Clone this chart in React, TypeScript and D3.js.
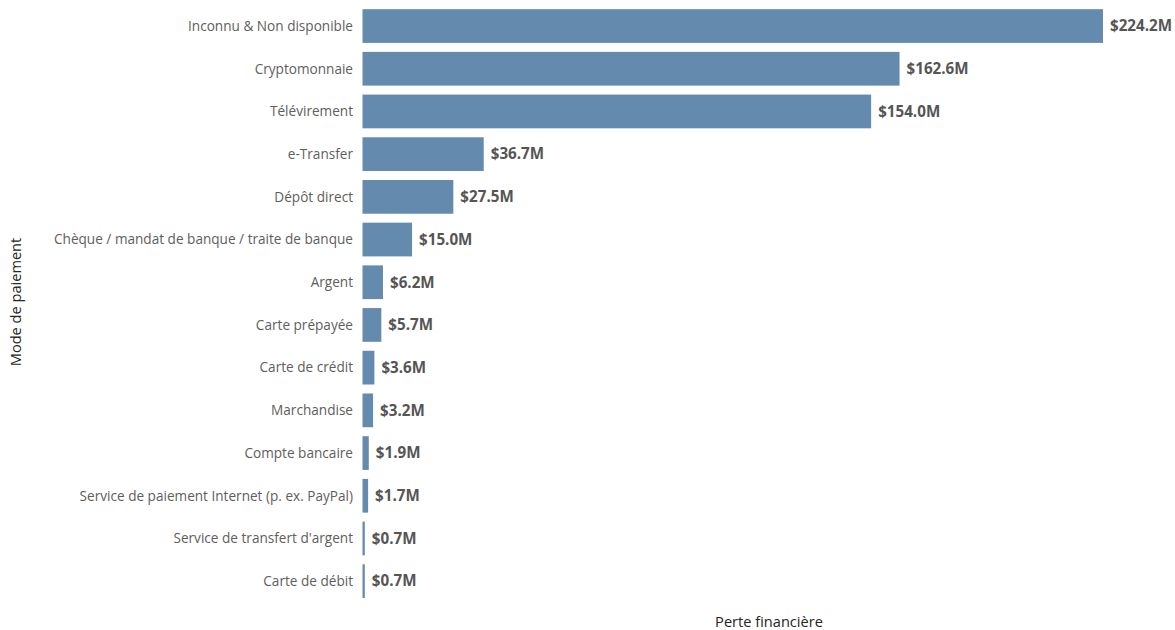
import React from "react";
import * as d3 from "d3";

const categories = [
  "Inconnu & Non disponible",
  "Cryptomonnaie",
  "Télévirement",
  "e-Transfer",
  "Dépôt direct",
  "Chèque / mandat de banque / traite de banque",
  "Argent",
  "Carte prépayée",
  "Carte de crédit",
  "Marchandise",
  "Compte bancaire",
  "Service de paiement Internet (p. ex. PayPal)",
  "Service de transfert d'argent",
  "Carte de débit",
];
const values = [224.2, 162.6, 154.0, 36.7, 27.5, 15.0, 6.2, 5.7, 3.6, 3.2, 1.9, 1.7, 0.7, 0.7];
const xTitle = "Perte financière";
const yTitle = "Mode de paiement";

const W = 1175;
const H = 630;
const left = 362.5;
const top = 4.7;
const bottom = 602.5;

export default function App() {
  const x = d3.scaleLinear().domain([0, 224.2]).range([left, 1103]);
  const y = d3.scaleBand<string>().domain(categories).range([top, bottom]).paddingInner(0.21).paddingOuter(0.105);
  const font = "'Open Sans', 'Noto Sans', sans-serif";
  return (
    <svg width={W} height={H} style={{ position: "absolute", left: 0, top: 0, background: "#fff" }} fontFamily={font}>
      {categories.map((c, i) => {
        const yy = y(c)!;
        const bw = y.bandwidth();
        return (
          <g key={c}>
            <rect x={x(0)} y={yy} width={x(values[i]) - x(0)} height={bw} fill="#648bad" />
            <text x={353} y={yy + bw / 2} dy="0.35em" textAnchor="end" fontSize={13.6} fill="#605e5c">
              {c}
            </text>
            <text x={x(values[i]) + 7} y={yy + bw / 2} dy="0.35em" fontSize={15.2} fontWeight="bold" fill="#555555">
              {`$${values[i].toFixed(1)}M`}
            </text>
          </g>
        );
      })}
      <text x={769} y={627} textAnchor="middle" fontSize={14.6} fill="#252423">
        {xTitle}
      </text>
      <text transform={`translate(21,302) rotate(-90)`} textAnchor="middle" fontSize={14.6} fill="#252423">
        {yTitle}
      </text>
    </svg>
  );
}
